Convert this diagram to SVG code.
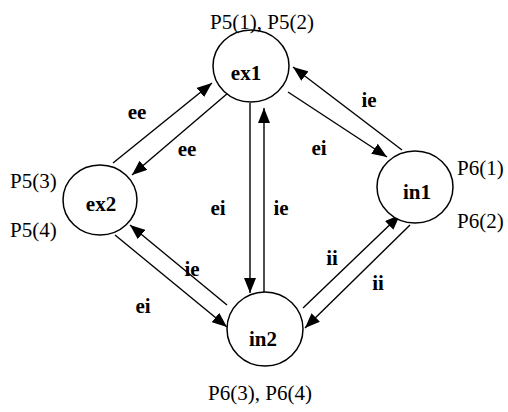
<svg xmlns="http://www.w3.org/2000/svg" width="508" height="412" viewBox="0 0 508 412">
<style>
.node{fill:#fff;stroke:#000;stroke-width:1.5}
text{font-family:"Liberation Serif","DejaVu Serif","Times New Roman",serif;fill:#000}
.nl{font-size:21px;font-weight:bold;text-anchor:middle}
.pl{font-size:21px}
.el{font-size:21px;font-weight:bold;text-anchor:middle}
.edge{stroke:#000;stroke-width:1.4;fill:none;marker-end:url(#ah)}
</style>
<defs>
<marker id="ah" markerUnits="userSpaceOnUse" markerWidth="16" markerHeight="12" refX="15" refY="6" orient="auto">
<path d="M0,0 L15,6 L0,12 Z" fill="#000"/>
</marker>
</defs>
<rect width="508" height="412" fill="#fff"/>
<g id="connectors">
<line class="edge" x1="113" y1="163" x2="212" y2="83"/>
<line class="edge" x1="228" y1="93" x2="132" y2="175"/>
<line class="edge" x1="250" y1="103" x2="250" y2="293"/>
<line class="edge" x1="264" y1="293" x2="264" y2="108"/>
<line class="edge" x1="402" y1="150" x2="293" y2="67"/>
<line class="edge" x1="288" y1="92" x2="387" y2="157"/>
<line class="edge" x1="227" y1="305" x2="130" y2="225"/>
<line class="edge" x1="115" y1="235" x2="227" y2="327"/>
<line class="edge" x1="303" y1="308" x2="400" y2="215"/>
<line class="edge" x1="410" y1="225" x2="305" y2="328"/>
<text class="el" x="137" y="119" font-family="Liberation Serif, serif">ee</text>
<text class="el" x="187" y="156" font-family="Liberation Serif, serif">ee</text>
<text class="el" x="218" y="215" font-family="Liberation Serif, serif">ei</text>
<text class="el" x="281" y="215" font-family="Liberation Serif, serif">ie</text>
<text class="el" x="369" y="107" font-family="Liberation Serif, serif">ie</text>
<text class="el" x="319" y="155" font-family="Liberation Serif, serif">ei</text>
<text class="el" x="192" y="276" font-family="Liberation Serif, serif">ie</text>
<text class="el" x="143" y="313" font-family="Liberation Serif, serif">ei</text>
<text class="el" x="332" y="265" font-family="Liberation Serif, serif">ii</text>
<text class="el" x="378" y="290" font-family="Liberation Serif, serif">ii</text>
</g>
<g id="ex1">
<ellipse class="node" cx="251" cy="66" rx="38" ry="36"/>
<text class="nl" x="246" y="80" font-family="Liberation Serif, serif">ex1</text>
<text class="pl" x="262" y="29" text-anchor="middle" font-family="Liberation Serif, serif">P5(1), P5(2)</text>
</g>
<g id="ex2">
<ellipse class="node" cx="100" cy="200" rx="37" ry="35"/>
<text class="nl" x="101" y="211" font-family="Liberation Serif, serif">ex2</text>
<text class="pl" x="10" y="188" font-family="Liberation Serif, serif">P5(3)</text>
<text class="pl" x="10" y="237" font-family="Liberation Serif, serif">P5(4)</text>
</g>
<g id="in1">
<ellipse class="node" cx="415" cy="187" rx="38" ry="36"/>
<text class="nl" x="417" y="199" font-family="Liberation Serif, serif">in1</text>
<text class="pl" x="457" y="175" font-family="Liberation Serif, serif">P6(1)</text>
<text class="pl" x="457" y="228" font-family="Liberation Serif, serif">P6(2)</text>
</g>
<g id="in2">
<ellipse class="node" cx="265" cy="329" rx="38" ry="37"/>
<text class="nl" x="263" y="346" font-family="Liberation Serif, serif">in2</text>
<text class="pl" x="260" y="400" text-anchor="middle" font-family="Liberation Serif, serif">P6(3), P6(4)</text>
</g>
</svg>
